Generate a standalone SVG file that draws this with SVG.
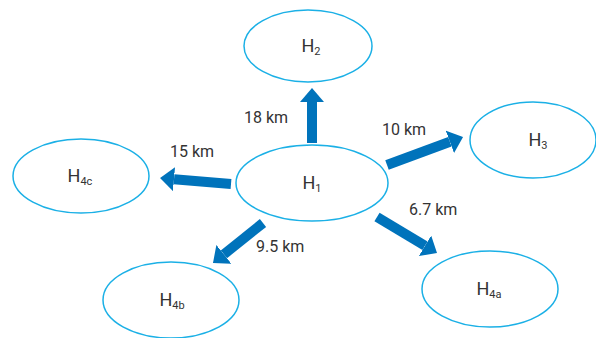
<svg xmlns="http://www.w3.org/2000/svg" width="596" height="338" viewBox="0 0 596 338">
<style>
.node ellipse{fill:#fff;stroke:#1bb0e6;stroke-width:1.5}
.lbl{font-family:Roboto,"Liberation Sans",sans-serif;font-size:18px;fill:#333;text-anchor:middle}
.sub{font-size:11px}
.dist{font-family:Roboto,"Liberation Sans",sans-serif;font-size:16px;fill:#333}
.conn line{stroke:#0073bb;stroke-width:10;marker-end:url(#head)}
</style>
<defs>
<marker id="head" markerUnits="userSpaceOnUse" markerWidth="15" markerHeight="24" refX="0" refY="12" orient="auto" viewBox="0 0 15 24">
<path d="M0,0 L14,12 L0,24 z" fill="#0073bb"/>
</marker>
</defs>
<rect width="596" height="338" fill="#fff"/>
<g id="H2" class="node"><ellipse cx="308" cy="46" rx="64" ry="36"/><text class="lbl" x="311" y="52">H<tspan class="sub" dy="3">2</tspan></text></g>
<g id="H1" class="node"><ellipse cx="312" cy="183" rx="76" ry="38"/><text class="lbl" x="312" y="189">H<tspan class="sub" dy="3">1</tspan></text></g>
<g id="H4c" class="node"><ellipse cx="81" cy="176" rx="68" ry="37"/><text class="lbl" x="80" y="182">H<tspan class="sub" dy="3">4c</tspan></text></g>
<g id="H3" class="node"><ellipse cx="533" cy="140" rx="63" ry="38"/><text class="lbl" x="538" y="146">H<tspan class="sub" dy="3">3</tspan></text></g>
<g id="H4b" class="node"><ellipse cx="171" cy="300" rx="68" ry="38"/><text class="lbl" x="172" y="306">H<tspan class="sub" dy="3">4b</tspan></text></g>
<g id="H4a" class="node"><ellipse cx="490" cy="289" rx="68" ry="38"/><text class="lbl" x="489" y="295">H<tspan class="sub" dy="3">4a</tspan></text></g>
<g id="connectors" class="conn">
<line x1="312" y1="143" x2="312" y2="102"/>
<line x1="231" y1="184" x2="174" y2="179.2"/>
<line x1="387" y1="165" x2="449.9" y2="141.8"/>
<line x1="263" y1="223" x2="223.9" y2="254.3"/>
<line x1="377" y1="217" x2="425" y2="245.8"/>
</g>
<g id="labels">
<text class="dist" x="244" y="123">18 km</text>
<text class="dist" x="170" y="157">15 km</text>
<text class="dist" x="382" y="135">10 km</text>
<text class="dist" x="409" y="215">6.7 km</text>
<text class="dist" x="256" y="252">9.5 km</text>
</g>
</svg>
